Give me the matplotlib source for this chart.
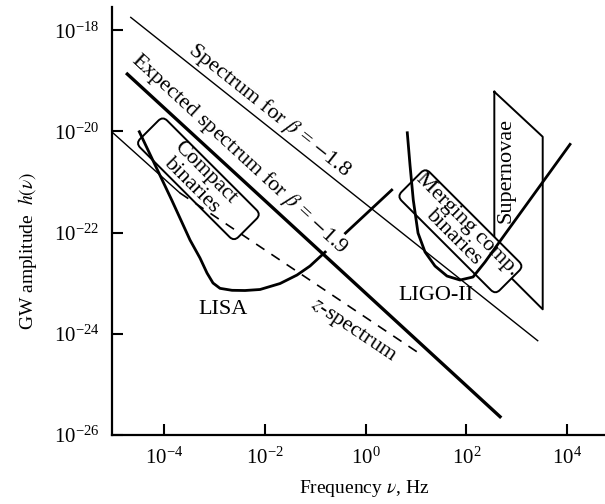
import numpy as np
import matplotlib
matplotlib.use('Agg')
import matplotlib.pyplot as plt
from matplotlib.patches import FancyBboxPatch
from matplotlib.transforms import Affine2D, ScaledTranslation

plt.rcParams['font.family'] = ['Liberation Serif', 'DejaVu Serif']
plt.rcParams['mathtext.fontset'] = 'stix'

# everything below is log10(frequency / Hz) and log10(h)
beta18_f = [-4.66, 3.415]
beta18_h = [-17.745, -24.136]
beta19_f = [-4.728, 2.667]
beta19_h = [-18.866, -25.638]
spec_f = [-5.038, -3.683]
spec_h = [-20.006, -21.217]
zspec_f = [-3.683, 1.046]
zspec_h = [-21.217, -24.374]
lisa_f = [-4.490, -3.847, -3.484, -3.286, -3.147, -3.028, -2.889, -2.651,
          -2.393, -2.095, -1.698, -1.361, -1.103, -0.845, 0.518]
lisa_h = [-20.006, -21.356, -22.146, -22.502, -22.798, -22.996, -23.101, -23.140,
          -23.144, -23.124, -23.006, -22.838, -22.660, -22.423, -21.158]
ligo_f = [0.827, 0.881, 0.946, 1.040, 1.179, 1.377, 1.615, 1.873, 2.131, 2.369, 2.726, 4.056]
ligo_h = [-20.026, -20.664, -21.356, -22.008, -22.383, -22.660, -22.858, -22.937,
          -22.877, -22.581, -22.087, -20.255]
sn_f = [2.554, 3.514, 3.514, 2.554, 2.554]
sn_h = [-19.215, -20.105, -23.516, -22.561, -19.215]

xticks = [1e-4, 1e-2, 1e0, 1e2, 1e4]
yticks = [1e-26, 1e-24, 1e-22, 1e-20, 1e-18]


def p10(v):
    return 10.0 ** np.asarray(v)


fig = plt.figure(figsize=(6.05, 5.04), dpi=100)
ax = fig.add_axes([111.7 / 605, 69 / 504, 493.3 / 605, 428 / 504])
ax.set_xscale('log')
ax.set_yscale('log')
ax.set_xlim(10 ** -5.038, 10 ** 4.75)
ax.set_ylim(1e-26, 10 ** -17.54)
ax.minorticks_off()
ax.set_xticks(xticks)
ax.set_yticks(yticks)
ax.tick_params(direction='in', length=8, width=1.5, labelsize=15, pad=9)
for s in ['top', 'right']:
    ax.spines[s].set_visible(False)
for s in ['left', 'bottom']:
    ax.spines[s].set_linewidth(1.6)

ax.plot(p10(beta18_f), p10(beta18_h), color='k', lw=1.0, zorder=2)
ax.plot(p10(beta19_f), p10(beta19_h), color='k', lw=2.4, zorder=2)
ax.plot(p10(spec_f), p10(spec_h), color='k', lw=1.0, zorder=2)
ax.plot(p10(zspec_f), p10(zspec_h), color='k', lw=1.2, ls=(0, (6, 5)), zorder=2)
ax.plot(p10(lisa_f), p10(lisa_h), color='k', lw=2.0, zorder=4, solid_joinstyle='round')
ax.plot(p10(ligo_f), p10(ligo_h), color='k', lw=2.0, zorder=4, solid_joinstyle='round')
ax.plot(p10(sn_f), p10(sn_h), color='k', lw=1.4, zorder=2)


def rounded_box(x, y, w, h, fc):
    tr = Affine2D().scale(fig.dpi / 72).rotate_deg(-45) + ScaledTranslation(x, y, ax.transData)
    box = FancyBboxPatch((-w / 2, -h / 2), w, h, boxstyle='round,pad=0,rounding_size=4.5',
                         transform=tr, fc=fc, ec='k', lw=1.4, zorder=3)
    ax.add_patch(box)


rounded_box(10 ** -3.318, 10 ** -20.936, 100, 27.5, 'none')
rounded_box(10 ** 1.881, 10 ** -21.973, 100, 28.8, 'white')


def angle_of(fs, hs):
    p = ax.transData.transform(np.column_stack([p10(fs), p10(hs)]))
    d = p[-1] - p[0]
    return np.degrees(np.arctan2(d[1], d[0]))


kw = dict(ha='center', va='center', rotation_mode='anchor', fontsize=16, zorder=5)
ax.text(10 ** -1.907, 10 ** -19.577, r'Spectrum for $\beta$ = $-$1.8',
        rotation=angle_of(beta18_f, beta18_h), **kw)
ax.text(10 ** -2.512, 10 ** -20.447, r'Expected spectrum for $\beta$ = $-$1.9',
        rotation=angle_of(beta19_f, beta19_h),
        bbox=dict(fc='white', ec='none', pad=0.3), **kw)
ax.text(10 ** -0.25, 10 ** -23.945, r'$z$-spectrum', rotation=angle_of(zspec_f, zspec_h), **kw)
ax.text(10 ** -2.823, 10 ** -23.516, 'LISA', **kw)
ax.text(10 ** 1.397, 10 ** -23.233, 'LIGO-II', **kw)
ax.text(10 ** 2.786, 10 ** -20.763, 'Supernovae', rotation=90, **kw)
ax.text(10 ** -3.318, 10 ** -20.936, 'Compact\nbinaries', rotation=-45, linespacing=0.95, **kw)
ax.text(10 ** 1.881, 10 ** -21.973, 'Merging comp.\nbinaries', rotation=-45, linespacing=0.95, **kw)

ax.set_xlabel(r'Frequency $\nu$, Hz', fontsize=14, va='center')
ax.xaxis.set_label_coords(0.511, -0.126)
ax.set_ylabel(r'GW amplitude  $h(\nu)$', fontsize=14, va='center')
ax.yaxis.set_label_coords(-0.170, 0.43)

fig.savefig('out.png', dpi=100)
